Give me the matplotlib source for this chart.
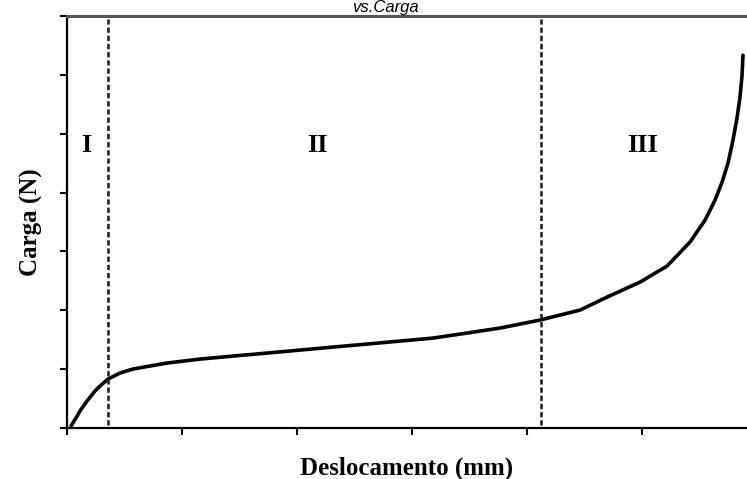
import matplotlib.pyplot as plt

# load-displacement curve (arbitrary units, one unit per tick)
deslocamento = [0.035, 0.078, 0.113, 0.174, 0.243, 0.287, 0.357, 0.461, 0.574,
                0.870, 1.157, 1.443, 1.739, 2.026, 2.313, 2.609, 2.896, 3.183,
                3.478, 3.765, 4.113, 4.287, 4.461, 4.696, 4.983, 5.217, 5.417,
                5.548, 5.635, 5.696, 5.748, 5.791, 5.826, 5.852, 5.870, 5.878]
carga = [0.034, 0.170, 0.289, 0.458, 0.628, 0.713, 0.832, 0.934, 1.002,
         1.104, 1.171, 1.222, 1.273, 1.324, 1.375, 1.426, 1.477, 1.528,
         1.613, 1.698, 1.834, 1.919, 2.003, 2.224, 2.479, 2.750, 3.158,
         3.531, 3.871, 4.177, 4.499, 4.890, 5.263, 5.620, 5.993, 6.333]

# stage boundaries and labels
limites = [0.357, 4.12]
estagios = ["I", "II", "III"]
pos_estagios = [0.17, 2.18, 5.0]

fig = plt.figure(figsize=(7.47, 4.79), dpi=100)
ax = fig.add_axes([67/747, 51/479, 680/747, 412/479])

ax.plot(deslocamento, carga, color="black", lw=2.6,
        solid_capstyle="round", solid_joinstyle="round")
for xl in limites:
    ax.plot([xl, xl], [0.05, 6.95], color="#222222", lw=1.9, dashes=(2.0, 1.1))

for txt, xp in zip(estagios, pos_estagios):
    ax.text(xp, 4.8, txt, ha="center", va="center", fontsize=19,
            fontweight="bold", family="Liberation Serif")

ax.set_xlim(0, 680/115)
ax.set_ylim(0, 7.0)
ax.set_xticks(range(0, 6))
ax.set_yticks(range(0, 8))
ax.set_xticklabels([])
ax.set_yticklabels([])
ax.tick_params(direction="out", length=5, width=1.5, color="black")

ax.spines["right"].set_visible(False)
ax.spines["left"].set_linewidth(1.6)
ax.spines["bottom"].set_linewidth(1.6)
ax.spines["top"].set_linewidth(2.2)
ax.spines["top"].set_color("#555555")

ax.set_xlabel("Deslocamento (mm)", fontsize=18, fontweight="bold",
              family="Liberation Serif", labelpad=12)
ax.set_ylabel("Carga (N)", fontsize=18, fontweight="bold",
              family="Liberation Serif", labelpad=9)

fig.text(385/747, 1 - 12/479, "vs.Carga", ha="center", va="baseline",
         fontsize=12, style="italic", family="Liberation Sans")

fig.savefig("out.png", dpi=100)
